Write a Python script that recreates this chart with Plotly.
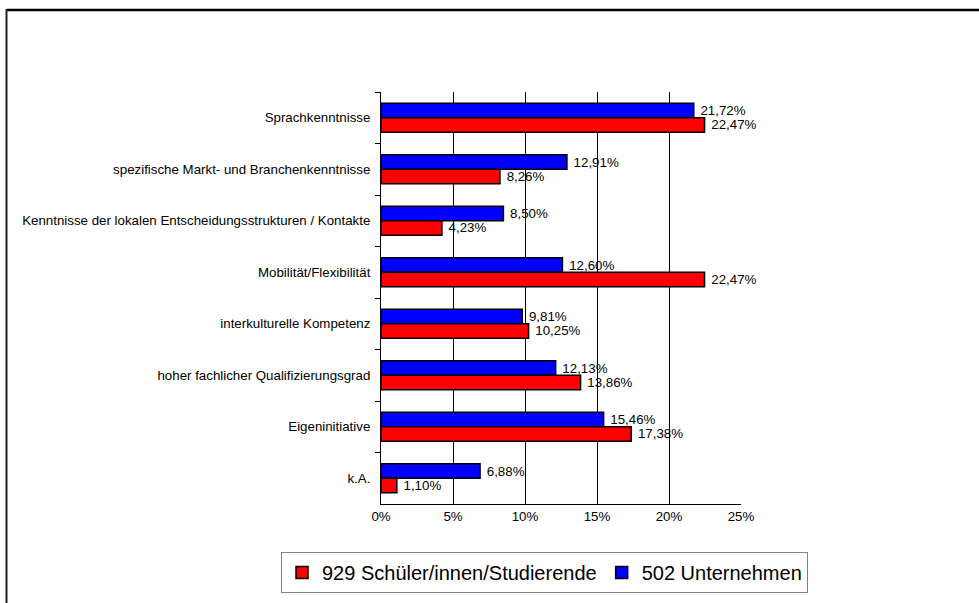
import plotly.graph_objects as go

categories = [
    "Sprachkenntnisse",
    "spezifische Markt- und Branchenkenntnisse",
    "Kenntnisse der lokalen Entscheidungsstrukturen / Kontakte",
    "Mobilität/Flexibilität",
    "interkulturelle Kompetenz",
    "hoher fachlicher Qualifizierungsgrad",
    "Eigeninitiative",
    "k.A.",
]
unternehmen = [21.72, 12.91, 8.50, 12.60, 9.81, 12.13, 15.46, 6.88]
schueler = [22.47, 8.26, 4.23, 22.47, 10.25, 13.86, 17.38, 1.10]
name_unternehmen = "502 Unternehmen"
name_schueler = "929 Schüler/innen/Studierende"
x_ticks = [0, 5, 10, 15, 20, 25]

W, H = 979, 603
ML, MR, MT, MB = 381, 238, 92, 99
PW, PH = W - ML - MR, H - MT - MB


def px_x(p):
    return (p - ML) / PW


def px_y(p):
    return (H - MB - p) / PH


def fmt(v):
    return " " + f"{v:.2f}".replace(".", ",") + "%"


FONT = "Liberation Sans, Arial, sans-serif"
FS = 13.3

fig = go.Figure()
fig.add_trace(go.Bar(
    y=categories, x=unternehmen, orientation="h", name=name_unternehmen,
    marker=dict(color="#0000FF", line=dict(color="black", width=1.5)),
    text=[fmt(v) for v in unternehmen], textposition="outside",
    textfont=dict(size=FS, color="black", family=FONT),
    constraintext="none", cliponaxis=False,
))
fig.add_trace(go.Bar(
    y=categories, x=schueler, orientation="h", name=name_schueler,
    marker=dict(color="#FF0000", line=dict(color="black", width=1.5)),
    text=[fmt(v) for v in schueler], textposition="outside",
    textfont=dict(size=FS, color="black", family=FONT),
    constraintext="none", cliponaxis=False,
))

fig.update_layout(
    width=W, height=H,
    margin=dict(l=ML, r=MR, t=MT, b=MB, autoexpand=False),
    paper_bgcolor="white", plot_bgcolor="white",
    barmode="group", bargap=0.44, bargroupgap=0,
    font=dict(family=FONT, size=FS, color="black"),
    showlegend=True,
    legend=dict(
        orientation="h", traceorder="reversed",
        x=px_x(281), xanchor="left", y=px_y(552), yanchor="top",
        bordercolor="#808080", borderwidth=1, bgcolor="white",
        font=dict(size=20, family=FONT, color="black"),
        itemwidth=30, tracegroupgap=0,
    ),
    xaxis=dict(
        range=[0, 25], tickvals=x_ticks, ticktext=[f"{t}%" for t in x_ticks],
        showgrid=True, gridcolor="black", gridwidth=1,
        showline=True, linecolor="black", linewidth=1,
        ticks="", zeroline=False, fixedrange=True,
        tickfont=dict(size=FS, family=FONT, color="black"),
    ),
    yaxis=dict(
        type="category", autorange="reversed",
        showline=True, linecolor="black", linewidth=1,
        ticks="outside", ticklen=5, tickcolor="black", tickson="boundaries",
        ticklabelstandoff=7,
        showgrid=False, zeroline=False, fixedrange=True,
        tickfont=dict(size=FS, family=FONT, color="black"),
    ),
    shapes=[
        dict(type="line", xref="paper", yref="paper",
             x0=px_x(6.5), x1=px_x(990), y0=px_y(10), y1=px_y(10),
             line=dict(color="black", width=2.5)),
        dict(type="line", xref="paper", yref="paper",
             x0=px_x(6.5), x1=px_x(6.5), y0=px_y(9), y1=px_y(620),
             line=dict(color="#222222", width=2)),
    ],
)

fig.write_html("out.html", config={"displayModeBar": False},
               post_script="document.body.style.margin='0';")
